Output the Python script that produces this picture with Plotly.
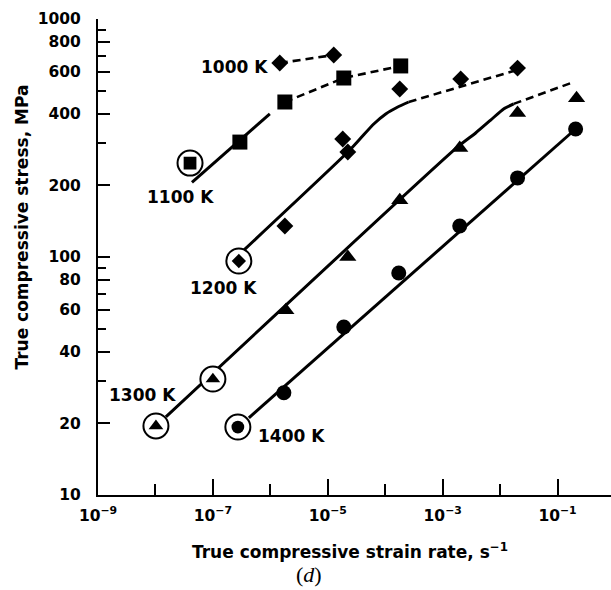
import math
import plotly.graph_objects as go

# ---- measured points: true strain rate (1/s) and true stress (MPa) ----
rate_1000 = [1.46e-6, 1.27e-5]
stress_1000 = [653, 706]
ring_1000 = [False, False]

rate_1100 = [4.0e-8, 2.95e-7, 1.79e-6, 1.9e-5, 1.86e-4]
stress_1100 = [248, 304, 448, 565, 635]
ring_1100 = [True, False, False, False, False]

rate_1200 = [2.83e-7, 1.79e-6, 1.82e-5, 2.23e-5, 1.79e-4, 2.06e-3, 2.01e-2]
stress_1200 = [96.2, 135, 313, 276, 508, 560, 622]
ring_1200 = [True, False, False, False, False, False, False]

rate_1300 = [1.02e-8, 1.0e-7, 1.86e-6, 2.23e-5, 1.79e-4, 1.98e-3, 2.01e-2, 0.214]
stress_1300 = [19.5, 30.7, 59.8, 100, 173, 287, 403, 465]
ring_1300 = [True, True, False, False, False, False, False, False]

rate_1400 = [2.72e-7, 1.72e-6, 1.9e-5, 1.72e-4, 1.98e-3, 2.01e-2, 0.206]
stress_1400 = [19.3, 26.9, 50.8, 85.7, 135, 215, 345]
ring_1400 = [True, False, False, False, False, False, False]

# ---- fitted curves (solid) and their extrapolations (dashed) ----
fit_1000_dash_rate = [1.46e-6, 1.27e-5]
fit_1000_dash_stress = [653, 706]

fit_1100_solid_rate = [4.32e-8, 9.8e-7]
fit_1100_solid_stress = [206, 399]
fit_1100_dash_rate = [1.79e-6, 1.9e-5, 1.86e-4]
fit_1100_dash_stress = [448, 565, 635]

fit_1200_solid_rate = [3.46e-7, 2.23e-5, 3.75e-5, 6.31e-5, 1.02e-4, 1.65e-4, 2.56e-4]
fit_1200_solid_stress = [106.9, 276, 316, 362, 399, 427, 448]
fit_1200_dash_rate = [2.56e-4, 1.72e-2]
fit_1200_dash_stress = [448, 605]

fit_1300_solid_rate = [1.52e-8, 1.82e-3, 3.75e-3, 6.84e-3, 1.15e-2, 1.72e-2]
fit_1300_solid_stress = [21.3, 290, 332, 376, 419, 440]
fit_1300_dash_rate = [1.72e-2, 0.19]
fit_1300_dash_stress = [440, 543]

fit_1400_solid_rate = [4.23e-7, 0.206]
fit_1400_solid_stress = [21.1, 345]

# ---- axis ticks ----
x_major = [1e-9, 1e-7, 1e-5, 1e-3, 1e-1]
x_major_text = ["10<sup>−9</sup>", "10<sup>−7</sup>", "10<sup>−5</sup>",
                "10<sup>−3</sup>", "10<sup>−1</sup>"]
x_minor = [1e-8, 1e-6, 1e-4, 1e-2]
y_major = [10, 20, 40, 60, 80, 100, 200, 400, 600, 800, 1000]
y_major_text = ["10", "20", "40", "60", "80", "100", "200", "400", "600", "800", "1000"]
y_minor = [30, 50, 70, 90, 300, 500, 700, 900]
y_decades = [10, 100, 1000]

FONT = "DejaVu Sans, Arial, sans-serif"
INK = "black"


def bold(size):
    return dict(family=FONT, size=size, color=INK, weight="bold")


fig = go.Figure()


def add_line(rates, stresses, dashed=False, smooth=False):
    fig.add_trace(go.Scatter(
        x=rates, y=stresses, mode="lines", showlegend=False, hoverinfo="skip",
        line=dict(color=INK, width=3 if not dashed else 2.6,
                  dash="8px,5px" if dashed else "solid",
                  shape="spline" if smooth else "linear",
                  smoothing=0.6 if smooth else None),
    ))


add_line(fit_1000_dash_rate, fit_1000_dash_stress, dashed=True)
add_line(fit_1100_solid_rate, fit_1100_solid_stress)
add_line(fit_1100_dash_rate, fit_1100_dash_stress, dashed=True)
add_line(fit_1200_solid_rate, fit_1200_solid_stress, smooth=True)
add_line(fit_1200_dash_rate, fit_1200_dash_stress, dashed=True)
add_line(fit_1300_solid_rate, fit_1300_solid_stress, smooth=True)
add_line(fit_1300_dash_rate, fit_1300_dash_stress, dashed=True)
add_line(fit_1400_solid_rate, fit_1400_solid_stress)

series = [
    (rate_1000, stress_1000, ring_1000, "diamond", 13),
    (rate_1100, stress_1100, ring_1100, "square", 15),
    (rate_1200, stress_1200, ring_1200, "diamond", 13),
    (rate_1300, stress_1300, ring_1300, "triangle-up", 15),
    (rate_1400, stress_1400, ring_1400, "circle", 15),
]

# open rings behind the marked points
for rates, stresses, rings, symbol, size in series:
    rx = [r for r, k in zip(rates, rings) if k]
    ry = [s for s, k in zip(stresses, rings) if k]
    if rx:
        fig.add_trace(go.Scatter(
            x=rx, y=ry, mode="markers", showlegend=False, hoverinfo="skip",
            marker=dict(symbol="circle", size=25, color="white", opacity=1,
                        line=dict(color=INK, width=2)),
        ))

# filled data symbols
for rates, stresses, rings, symbol, size in series:
    sizes = [size * 0.85 if k else size for k in rings]
    fig.add_trace(go.Scatter(
        x=rates, y=stresses, mode="markers", showlegend=False,
        marker=dict(symbol=symbol, size=sizes, color=INK, opacity=1,
                    line=dict(width=0)),
    ))

# temperature labels
labels = [
    ("1000 K", 2.42e-7, 628),
    ("1100 K", 2.77e-8, 178.6),
    ("1200 K", 1.55e-7, 74.1),
    ("1300 K", 6.05e-9, 26.3),
    ("1400 K", 2.37e-6, 17.7),
]
for text, lx, ly in labels:
    fig.add_annotation(x=math.log10(lx), y=math.log10(ly), xref="x", yref="y",
                       text=text, showarrow=False,
                       xanchor="center", yanchor="middle", font=bold(17))

# axis titles
fig.add_annotation(x=0.491, y=-0.118, xref="paper", yref="paper",
                   xanchor="center", yanchor="middle",
                   text="True compressive strain rate, s<sup>−1</sup>",
                   showarrow=False, font=bold(17))
fig.add_annotation(x=-0.148, y=0.562, xref="paper", yref="paper",
                   xanchor="center", yanchor="middle",
                   text="True compressive stress, MPa", textangle=-90,
                   showarrow=False, font=bold(17))
fig.add_annotation(x=0.412, y=-0.168, xref="paper", yref="paper",
                   xanchor="center", yanchor="middle",
                   text="(<i>d</i>)", showarrow=False,
                   font=dict(family="Liberation Serif, Times New Roman, serif",
                             size=22, color=INK))

fig.update_layout(
    width=611, height=590,
    margin=dict(l=98, r=0, t=19, b=95),
    paper_bgcolor="white", plot_bgcolor="white",
    font=dict(family=FONT, size=16, color=INK),
    xaxis=dict(
        type="log", range=[-9, -0.07],
        tickmode="array", tickvals=x_major, ticktext=x_major_text,
        ticks="inside", ticklen=16, tickwidth=2, tickcolor=INK,
        minor=dict(tickmode="array", tickvals=x_minor, ticks="inside",
                   ticklen=11, tickwidth=2, tickcolor=INK, showgrid=False),
        showline=True, linewidth=2, linecolor=INK,
        showgrid=False, zeroline=False,
        tickfont=bold(15.5),
        ticklabelstandoff=5,
    ),
    yaxis=dict(
        type="log", range=[1, 3],
        tickmode="array", tickvals=y_major, ticktext=y_major_text,
        ticks="inside", ticklen=12, tickwidth=2, tickcolor=INK,
        minor=dict(tickmode="array", tickvals=y_minor, ticks="inside",
                   ticklen=8, tickwidth=2, tickcolor=INK, showgrid=False),
        showline=True, linewidth=2, linecolor=INK,
        showgrid=False, zeroline=False,
        tickfont=bold(15.5),
        ticklabelstandoff=12,
    ),
    yaxis2=dict(
        type="log", range=[1, 3], overlaying="y", side="left",
        tickmode="array", tickvals=y_decades, showticklabels=False,
        ticks="inside", ticklen=17, tickwidth=2, tickcolor=INK,
        showline=False, showgrid=False, zeroline=False,
    ),
)

fig.write_html("out.html")
